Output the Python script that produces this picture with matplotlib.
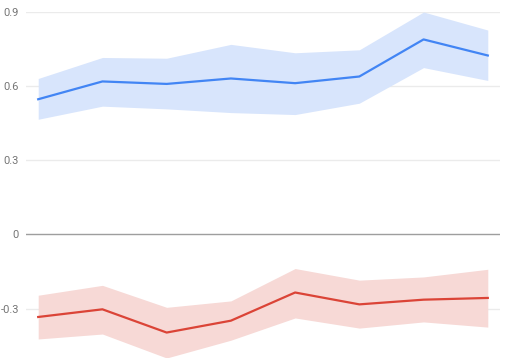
import numpy as np
import matplotlib
matplotlib.use('Agg')
import matplotlib.pyplot as plt

plt.rcParams['font.family'] = ['Roboto', 'DejaVu Sans']

## eight points along the x axis, no labels shown
xpos = [0, 1, 2, 3, 4, 5, 6, 7]

blue_mid = [0.547, 0.619, 0.609, 0.631, 0.612, 0.639, 0.789, 0.724]
blue_hi  = [0.631, 0.716, 0.713, 0.769, 0.735, 0.747, 0.900, 0.827]
blue_lo  = [0.466, 0.519, 0.508, 0.493, 0.485, 0.531, 0.675, 0.623]

red_mid = [-0.334, -0.303, -0.397, -0.349, -0.235, -0.283, -0.264, -0.257]
red_hi  = [-0.246, -0.206, -0.295, -0.269, -0.138, -0.185, -0.172, -0.141]
red_lo  = [-0.423, -0.403, -0.500, -0.428, -0.338, -0.379, -0.354, -0.375]

yticks = [-0.3, 0, 0.3, 0.6, 0.9]
yticklabels = ['-0.3', '0', '0.3', '0.6', '0.9']

fig = plt.figure(figsize=(5.07, 3.58), dpi=100)
ax = fig.add_axes([26/507, 0.0, 474/507, 346/358])

for y in yticks:
  if y == 0:
    ax.axhline(y, color='#9e9e9e', lw=1.0, zorder=3)
  else:
    ax.axhline(y, color='#ebebeb', lw=1.0, zorder=0)

ax.fill_between(xpos, blue_lo, blue_hi, color='#d8e5fc', lw=0, zorder=1)
ax.fill_between(xpos, red_lo, red_hi, color='#f7d9d6', lw=0, zorder=1)
ax.plot(xpos, blue_mid, color='#4285f4', lw=1.6, zorder=4)
ax.plot(xpos, red_mid, color='#db4437', lw=1.6, zorder=4)

ax.set_xlim(-0.19, 7.19)
ax.set_ylim(-0.5, 0.9)
ax.set_yticks(yticks)
ax.set_yticklabels(yticklabels)
ax.set_xticks([])
ax.tick_params(axis='y', length=0, pad=5, labelsize=8, labelcolor='#757575')
for s in ax.spines.values():
  s.set_visible(False)

fig.savefig('out.png', dpi=100)
plt.close()
